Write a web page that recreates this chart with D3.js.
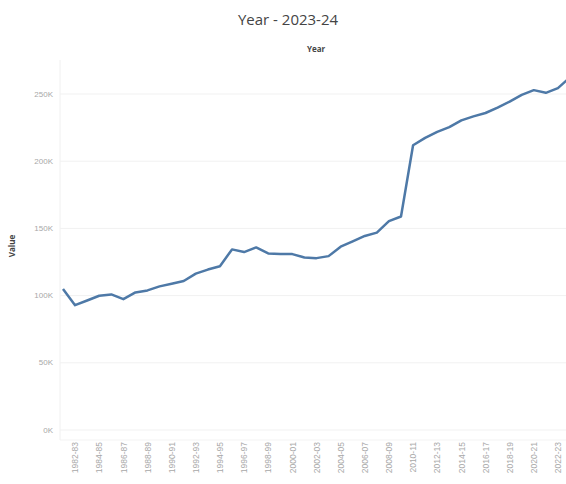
<!DOCTYPE html>
<html lang="en">
    <head>
        <meta charset="utf-8">
        <script src="https://d3js.org/d3.v7.min.js"></script>
        <style type="text/css">
        body {
          margin: 0;
          background: #fff;
          font-family: "Open Sans", "Noto Sans", sans-serif;
        }
        .grid line { stroke: #f1f1f1; }
        .grid .domain { display: none; }
        .axis text { fill: #a8a8a8; font-size: 8px; }
        .axis .domain, .axis line { display: none; }
        </style>
    </head>
    <body>
        <script>
          // years on the x axis, one per point
          var years = ["1981-82", "1982-83", "1983-84", "1984-85", "1985-86", "1986-87",
                       "1987-88", "1988-89", "1989-90", "1990-91", "1991-92", "1992-93",
                       "1993-94", "1994-95", "1995-96", "1996-97", "1997-98", "1998-99",
                       "1999-00", "2000-01", "2001-02", "2002-03", "2003-04", "2004-05",
                       "2005-06", "2006-07", "2007-08", "2008-09", "2009-10", "2010-11",
                       "2011-12", "2012-13", "2013-14", "2014-15", "2015-16", "2016-17",
                       "2017-18", "2018-19", "2019-20", "2020-21", "2021-22", "2022-23",
                       "2023-24"];

          // value per year
          var values = [104500, 92500, 96000, 99500, 100500, 97000,
                        102000, 103500, 106500, 108500, 110500, 116000,
                        119000, 121500, 134000, 132000, 135500, 131000,
                        130500, 130500, 128000, 127500, 129000, 136000,
                        140000, 144000, 146500, 155000, 158500, 211500,
                        217000, 221500, 225000, 230000, 233000, 235500,
                        239500, 244000, 249000, 252500, 250500, 254000,
                        262000];

          // tick labels shown (every other year)
          var xTickLabels = years.filter(function(d, i) { return i % 2 == 1; });
          var yTicks = [0, 50000, 100000, 150000, 200000, 250000];

          var w = 566;
          var h = 484;

          var data = years.map(function(d, i) { return {year: d, value: values[i]}; });

          var svg = d3.select("body")
                      .append("svg")
                      .attr("width", w)
                      .attr("height", h);

          var xScale = d3.scalePoint()
            .domain(years)
            .range([63, 570]);

          var yScale = d3.scaleLinear()
            .domain([0, 250000])
            .range([429.5, 93.5]);

          // title
          svg.append("text")
            .attr("x", 288)
            .attr("y", 25)
            .attr("text-anchor", "middle")
            .style("font-size", "15px")
            .style("fill", "#444")
            .text("Year - 2023-24");

          // column header
          svg.append("text")
            .attr("x", 316)
            .attr("y", 52)
            .attr("text-anchor", "middle")
            .style("font-size", "8px")
            .style("font-weight", "bold")
            .style("fill", "#444")
            .text("Year");

          // pane borders
          svg.append("line")
            .attr("x1", 60).attr("x2", 60)
            .attr("y1", 60).attr("y2", 440)
            .style("stroke", "#f0f0f0");
          svg.append("line")
            .attr("x1", 60).attr("x2", w)
            .attr("y1", 440).attr("y2", 440)
            .style("stroke", "#f3f3f3");

          // gridlines
          svg.append("g")
            .attr("class", "grid")
            .attr("transform", "translate(60,0)")
            .call(d3.axisRight(yScale).tickValues(yTicks).tickSize(w - 60).tickFormat(""));

          // y axis
          svg.append("g")
            .attr("class", "axis")
            .attr("transform", "translate(56,0)")
            .call(d3.axisLeft(yScale).tickValues(yTicks).tickSize(0)
              .tickFormat(function(d) { return (d / 1000) + "K"; }));

          // y axis title
          svg.append("text")
            .attr("transform", "translate(15,246) rotate(-90)")
            .attr("text-anchor", "middle")
            .style("font-size", "8px")
            .style("font-weight", "bold")
            .style("fill", "#444")
            .text("Value");

          // x axis, rotated labels
          var xAxis = svg.append("g")
            .attr("class", "axis")
            .attr("transform", "translate(0,440)")
            .call(d3.axisBottom(xScale).tickValues(xTickLabels).tickSize(0));
          xAxis.selectAll("text")
            .attr("transform", "rotate(-90)")
            .attr("x", -2)
            .attr("y", 0)
            .attr("dy", "0.32em")
            .attr("text-anchor", "end")
            .style("font-size", "8.5px");

          // line
          var line = d3.line()
            .x(function(d) { return xScale(d.year); })
            .y(function(d) { return yScale(d.value); });

          svg.append("path")
            .datum(data)
            .attr("d", line)
            .attr("fill", "none")
            .attr("stroke", "#4e79a7")
            .attr("stroke-width", 2.5)
            .attr("stroke-linejoin", "round");
        </script>
    </body>
</html>
